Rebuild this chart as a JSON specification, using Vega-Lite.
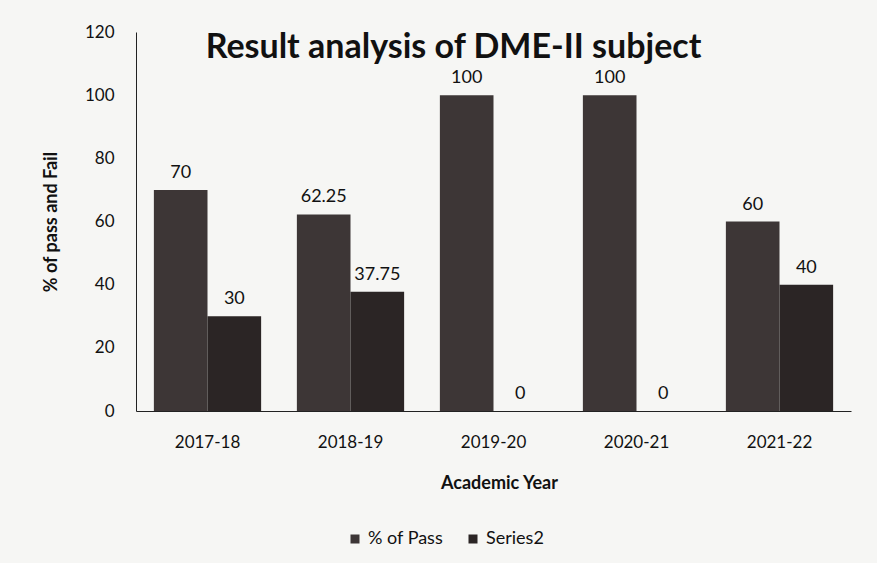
{
  "$schema": "https://vega.github.io/schema/vega-lite/v6.json",
  "width": 715,
  "height": 379,
  "autosize": {"type": "none"},
  "padding": {"left": 136, "top": 32, "right": 26, "bottom": 152},
  "background": "#f6f6f4",
  "title": {
    "text": "Result analysis of DME-II subject",
    "font": "Lato",
    "fontSize": 34,
    "fontWeight": "bold",
    "color": "#111111",
    "anchor": "middle",
    "frame": "group",
    "dx": -40,
    "offset": -42
  },
  "data": {
    "values": [
      {"year": "2017-18", "series": "% of Pass", "value": 70},
      {"year": "2017-18", "series": "Series2", "value": 30},
      {"year": "2018-19", "series": "% of Pass", "value": 62.25},
      {"year": "2018-19", "series": "Series2", "value": 37.75},
      {"year": "2019-20", "series": "% of Pass", "value": 100},
      {"year": "2019-20", "series": "Series2", "value": 0},
      {"year": "2020-21", "series": "% of Pass", "value": 100},
      {"year": "2020-21", "series": "Series2", "value": 0},
      {"year": "2021-22", "series": "% of Pass", "value": 60},
      {"year": "2021-22", "series": "Series2", "value": 40}
    ]
  },
  "encoding": {
    "x": {
      "field": "year",
      "type": "nominal",
      "scale": {"paddingInner": 0.25, "paddingOuter": 0.125},
      "axis": {
        "title": "Academic Year",
        "labelAngle": 0,
        "labelFont": "Lato",
        "labelFontSize": 17,
        "labelColor": "#111111",
        "labelPadding": 23,
        "ticks": false,
        "domainColor": "#222222",
        "titleFont": "Lato",
        "titleFontSize": 18,
        "titleFontWeight": "bold",
        "titleColor": "#111111",
        "titlePadding": 24,
        "titleX": 363
      }
    },
    "xOffset": {"field": "series", "type": "nominal", "scale": {"paddingInner": 0}},
    "y": {
      "field": "value",
      "type": "quantitative",
      "scale": {"domain": [0, 120]},
      "axis": {
        "title": "% of pass and Fail",
        "values": [0, 20, 40, 60, 80, 100, 120],
        "grid": false,
        "ticks": false,
        "labelFont": "Lato",
        "labelFontSize": 17,
        "labelColor": "#111111",
        "labelPadding": 22,
        "domainColor": "#222222",
        "titleFont": "Lato",
        "titleFontSize": 18,
        "titleFontWeight": "bold",
        "titleColor": "#111111",
        "titlePadding": 24
      }
    }
  },
  "layer": [
    {
      "mark": {"type": "bar"},
      "encoding": {
        "color": {
          "field": "series",
          "type": "nominal",
          "scale": {"domain": ["% of Pass", "Series2"], "range": ["#3d3636", "#2b2525"]},
          "legend": {
            "title": null,
            "orient": "none",
            "direction": "horizontal",
            "legendX": 210,
            "legendY": 498,
            "symbolType": "square",
            "symbolSize": 81,
            "labelFont": "Lato",
            "labelFontSize": 18,
            "labelColor": "#111111",
            "columnPadding": 20
          }
        }
      }
    },
    {
      "mark": {"type": "text", "baseline": "bottom", "dy": -8, "font": "Lato", "fontSize": 18, "color": "#111111"},
      "encoding": {
        "text": {"field": "value", "type": "quantitative"}
      }
    }
  ],
  "config": {"view": {"stroke": null}}
}
